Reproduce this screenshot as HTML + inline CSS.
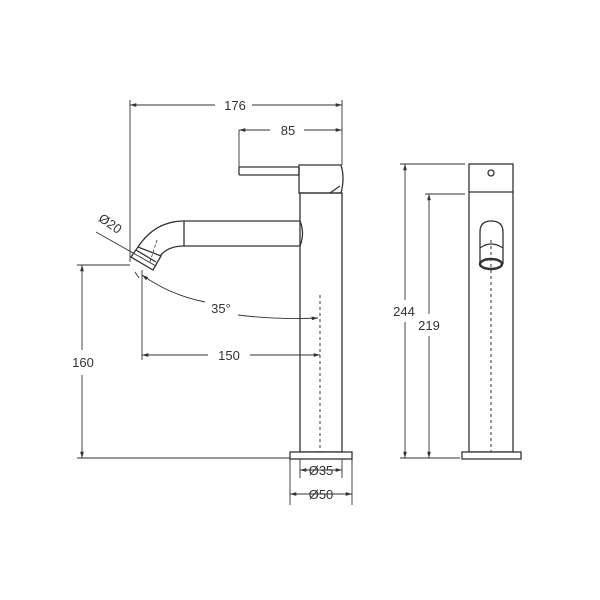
<!DOCTYPE html>
<html><head><style>body{margin:0;background:#fff}svg{display:block}text{font-family:"Liberation Sans",sans-serif;font-size:13px;fill:#333}</style></head>
<body>
<svg width="600" height="600" viewBox="0 0 600 600">
<defs><marker id="a" viewBox="0 0 10 10" refX="10" refY="5" markerWidth="7" markerHeight="7" orient="auto-start-reverse"><path d="M0,2 L10,5 L0,8z" fill="#333"/></marker></defs>
<g stroke="#333" fill="none" stroke-width="1.3">
<rect x="300" y="193" width="42" height="259" fill="#fff"/>
<rect x="290" y="452" width="62" height="7" fill="#fff"/>
<path d="M299,165 H341 Q345,178 341,193 H299 Z"/>
<path d="M330,193 L340,186"/>
<rect x="239" y="167" width="60" height="8" rx="1"/>
<path d="M184,221 H300 Q305,233 300,246 H184"/>
<path d="M184,221 Q155,221 138,247 M184,246 Q168,246 160,256"/>
<path d="M184,221 V246"/>
<path d="M131,257 L138,247 L161,256 L153,270 Z"/>
<path d="M136,250 L156,262"/>
<path d="M157,240 L150,262" stroke-dasharray="3,2" stroke-width="0.8"/>
<path d="M320,295 V452" stroke-dasharray="3,3" stroke-width="1"/>
<rect x="469" y="164" width="44" height="288" fill="#fff"/>
<path d="M469,192 H513"/>
<rect x="462" y="452" width="59" height="7" fill="#fff"/>
<circle cx="491" cy="173" r="3"/>
<path d="M480,264 V232 Q480,221 491,221 Q503,221 503,232 V264"/>
<path d="M480,248 Q491,240 503,248"/>
<ellipse cx="491" cy="264" rx="11" ry="5" stroke-width="2.5"/>
<path d="M491,240 V452" stroke-dasharray="3,3" stroke-width="1"/>
</g>
<g stroke="#333" fill="none" stroke-width="0.9">
<path d="M130,100 V262 M342,100 V165 M239,130 V167"/>
<path d="M130,105 H215 M252,105 H342" marker-start="url(#a)" marker-end="url(#a)"/>
<path d="M239,130 H270 M304,130 H342" marker-start="url(#a)" marker-end="url(#a)"/>
<path d="M77,265 H130 M77,458 H290"/>
<path d="M82,265 V350 M82,375 V458" marker-start="url(#a)" marker-end="url(#a)"/>
<path d="M142,270 V360"/>
<path d="M142,355 H208 M250,355 H320" marker-start="url(#a)" marker-end="url(#a)"/>
<path d="M142,275 Q170,295 205,302" marker-start="url(#a)"/>
<path d="M238,315 Q280,320 318,318" marker-end="url(#a)"/>
<path d="M96,232 L156,266"/>
<path d="M135,272 L139,278"/>
<path d="M290,459 V505 M352,459 V505 M300,459 V478 M342,459 V478"/>
<path d="M300,470 H342" marker-start="url(#a)" marker-end="url(#a)"/>
<path d="M290,494 H352" marker-start="url(#a)" marker-end="url(#a)"/>
<path d="M400,164 H465 M425,194 H465 M400,458 H460"/>
<path d="M405,164 V300 M405,322 V458" marker-start="url(#a)" marker-end="url(#a)"/>
<path d="M429,194 V314 M429,336 V458" marker-start="url(#a)" marker-end="url(#a)"/>
</g>
<text x="235" y="110" text-anchor="middle">176</text>
<text x="288" y="135" text-anchor="middle">85</text>
<text x="83" y="367" text-anchor="middle">160</text>
<text x="229" y="360" text-anchor="middle">150</text>
<text x="221" y="313" text-anchor="middle">35°</text>
<text x="110" y="228" text-anchor="middle" transform="rotate(35 110 224)">Ø20</text>
<text x="321" y="475" text-anchor="middle">Ø35</text>
<text x="321" y="499" text-anchor="middle">Ø50</text>
<text x="404" y="316" text-anchor="middle">244</text>
<text x="429" y="330" text-anchor="middle">219</text>
</svg>
</body></html>
